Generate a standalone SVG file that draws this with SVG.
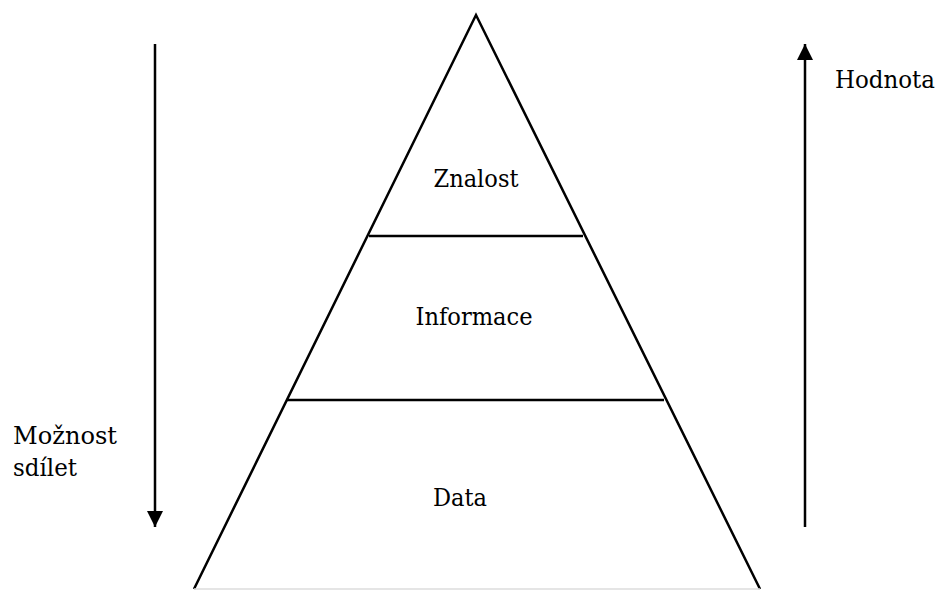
<svg xmlns="http://www.w3.org/2000/svg" width="939" height="590" viewBox="0 0 939 590">
<style>
.ln{stroke:#000;stroke-width:2.5;fill:none;stroke-linecap:butt}
.t{font-family:'DejaVu Serif',serif;font-size:24px;fill:#000}
</style>
<defs>
<marker id="ah" viewBox="0 0 10 10" refX="10" refY="5" markerWidth="17" markerHeight="16" markerUnits="userSpaceOnUse" orient="auto">
<path d="M0,0 L10,5 L0,10 Z" fill="#000"/>
</marker>
</defs>
<rect width="939" height="590" fill="#fff"/>
<g id="pyramid">
<path class="ln" d="M194,589 L476,15 L760,589"/>
<line x1="194" y1="589" x2="760" y2="589" stroke="#ddd" stroke-width="1.5"/>
</g>
<g id="znalost">
<line class="ln" x1="369" y1="236" x2="583" y2="236"/>
<text class="t" x="476" y="187" text-anchor="middle" textLength="85" lengthAdjust="spacingAndGlyphs">Znalost</text>
</g>
<g id="informace">
<line class="ln" x1="287" y1="400" x2="664" y2="400"/>
<text class="t" x="474" y="325" text-anchor="middle" textLength="117" lengthAdjust="spacingAndGlyphs">Informace</text>
</g>
<g id="data">
<text class="t" x="460" y="506" text-anchor="middle" textLength="54" lengthAdjust="spacingAndGlyphs">Data</text>
</g>
<g id="connectors">
<line class="ln" x1="155" y1="44" x2="155" y2="527" marker-end="url(#ah)"/>
<line class="ln" x1="805" y1="527" x2="805" y2="44" marker-end="url(#ah)"/>
</g>
<g id="labels">
<text class="t" x="835" y="88" textLength="100" lengthAdjust="spacingAndGlyphs">Hodnota</text>
<text class="t" x="13" y="444" textLength="104" lengthAdjust="spacingAndGlyphs">Možnost</text>
<text class="t" x="13" y="476" textLength="64" lengthAdjust="spacingAndGlyphs">sdílet</text>
</g>
</svg>
